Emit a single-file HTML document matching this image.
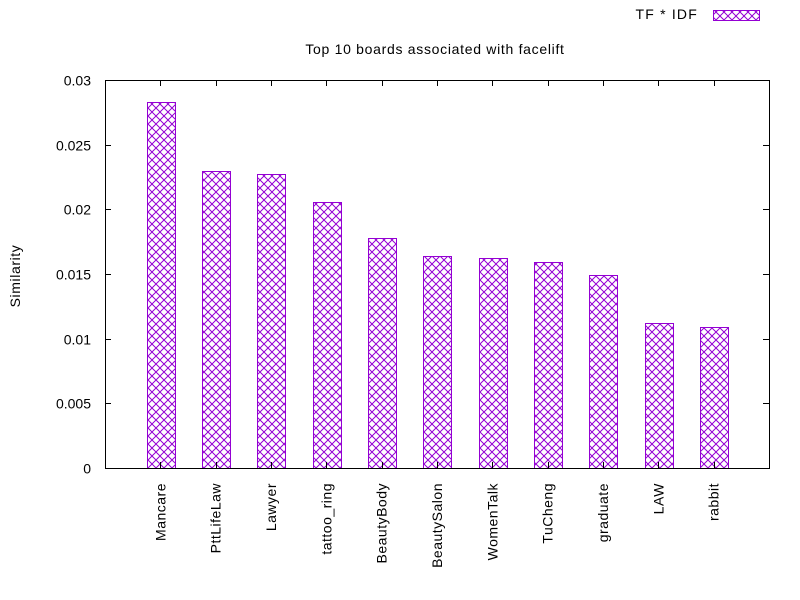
<!DOCTYPE html>
<html><head><meta charset="utf-8"><style>body{margin:0;background:#fff}svg{display:block;font-family:"Liberation Sans",sans-serif}</style></head>
<body>
<svg id="chart" width="800" height="600" xmlns="http://www.w3.org/2000/svg">
<defs>
<pattern id="hatch" patternUnits="userSpaceOnUse" width="8" height="8">
<path d="M0,0 L8,8 M8,0 L0,8" stroke="#9400d3" stroke-width="1" fill="none"/>
</pattern>
</defs>
<rect width="800" height="600" fill="#fff"/>
<text x="435" y="54" font-size="14" letter-spacing="0.7" text-anchor="middle">Top 10 boards associated with facelift</text>
<text transform="translate(20,276) rotate(-90)" font-size="14" letter-spacing="0.6" text-anchor="middle">Similarity</text>
<g>
<text x="698" y="19" font-size="14" letter-spacing="1.2" text-anchor="end">TF * IDF</text>
<rect x="713.5" y="10.5" width="46" height="10" fill="url(#hatch)" stroke="#9400d3"/>
</g>
<g id="bars"></g>
<g id="axes"></g>
</svg>
<script>
const categories = ["Mancare","PttLifeLaw","Lawyer","tattoo_ring","BeautyBody","BeautySalon","WomenTalk","TuCheng","graduate","LAW","rabbit"];
const values = [0.0283,0.0230,0.0227,0.0206,0.0178,0.0164,0.0162,0.0159,0.0149,0.0112,0.0109];
const yTicks = [0,0.005,0.01,0.015,0.02,0.025,0.03];
const yTickLabels = ["0","0.005","0.01","0.015","0.02","0.025","0.03"];
const L=105,R=769,T=80,B=468;
const n=categories.length;
const slot=(R-L)/(n+1);
const x=i=>L+slot*(i+1);
const y=v=>B-(v/0.03)*(B-T);
const NS="http://www.w3.org/2000/svg";
const bars=document.getElementById('bars'), axes=document.getElementById('axes');
function mk(tag,attrs,parent){const e=document.createElementNS(NS,tag);for(const k in attrs)e.setAttribute(k,attrs[k]);parent.appendChild(e);return e;}
values.forEach((v,i)=>{
 const w=slot*0.5;
 const r=mk('rect',{x:Math.round(x(i)-w/2)+0.5,y:Math.round(y(v))+0.5,width:Math.round(w),height:Math.round(B-y(v)),fill:'url(#hatch)',stroke:'#9400d3','stroke-width':1},bars);
 
 
 const t=mk('text',{transform:`translate(${x(i)+5},483) rotate(-90)`,'font-size':14,'letter-spacing':0.5,'text-anchor':'end'},axes);
 t.textContent=categories[i];
 
 
 mk('path',{d:`M${Math.round(x(i))+0.5},${B} v-6 M${Math.round(x(i))+0.5},${T} v6`,stroke:'#000'},axes);
});
yTicks.forEach((v,i)=>{
 const yy=Math.round(y(v))+0.5;
 mk('path',{d:`M${L},${yy} h6 M${R},${yy} h-6`,stroke:'#000'},axes);
 const t=mk('text',{x:91,y:yy+5,'font-size':14,'text-anchor':'end'},axes);
 t.textContent=yTickLabels[i];
 
 
});
const f=mk('rect',{x:L+0.5,y:T+0.5,width:R-L,height:B-T,fill:'none',stroke:'#000'},axes);


</script>
</body></html>
